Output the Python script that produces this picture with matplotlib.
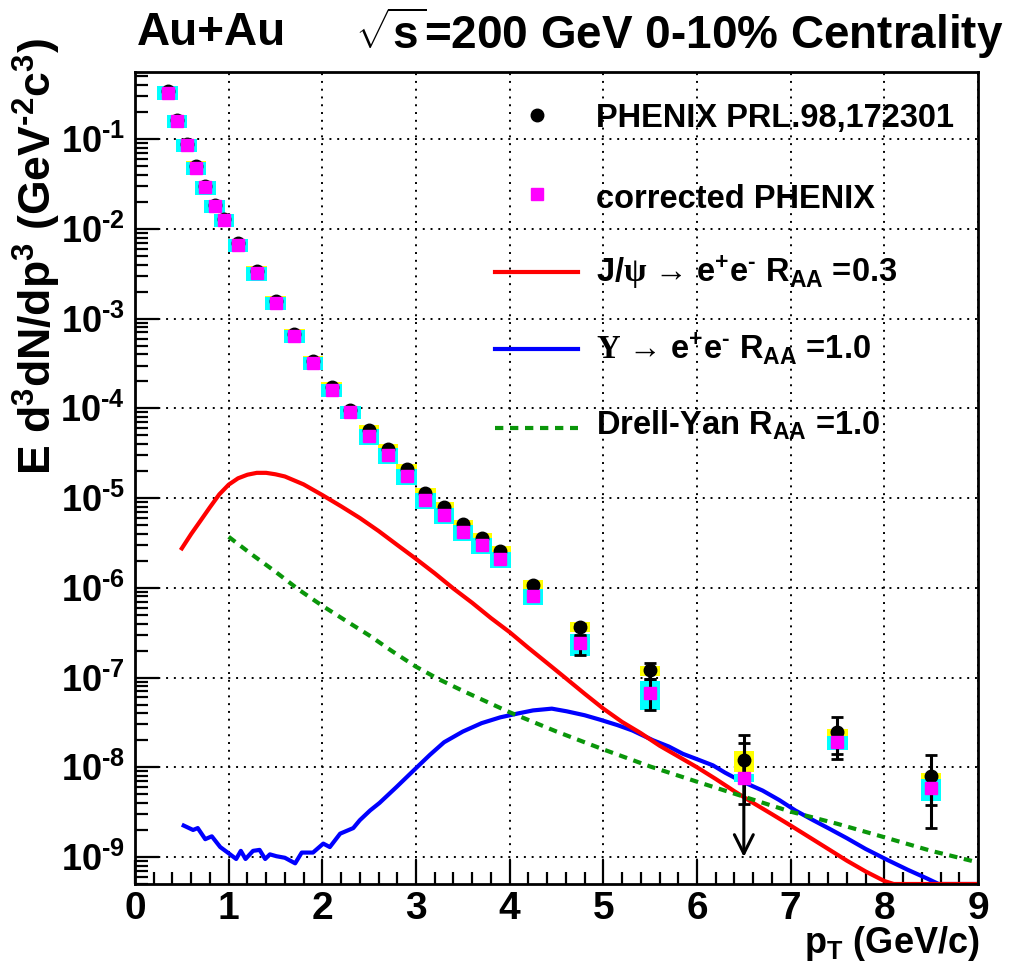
import numpy as np
import matplotlib
matplotlib.use('Agg')
from matplotlib import pyplot as plt
from matplotlib.lines import Line2D
from matplotlib.ticker import FuncFormatter, FixedLocator, LogLocator, NullFormatter, MultipleLocator

plt.rcParams['font.family'] = ['Liberation Sans', 'DejaVu Sans']
plt.rcParams['font.weight'] = 'bold'
plt.rcParams['mathtext.fontset'] = 'custom'
plt.rcParams['mathtext.rm'] = 'Liberation Sans:bold'
plt.rcParams['mathtext.it'] = 'Liberation Sans:bold'
plt.rcParams['mathtext.bf'] = 'Liberation Sans:bold'
plt.rcParams['mathtext.sf'] = 'Liberation Serif'

# PHENIX points (pT in GeV/c)
pt = [0.35, 0.45, 0.55, 0.65, 0.75, 0.85, 0.95, 1.1, 1.3, 1.5, 1.7, 1.9, 2.1, 2.3,
      2.5, 2.7, 2.9, 3.1, 3.3, 3.5, 3.7, 3.9, 4.25, 4.75, 5.5, 6.5, 7.5, 8.5]
phenix = [0.34, 0.165, 0.089, 0.050, 0.030, 0.0185, 0.013, 0.0069, 0.0034, 0.00158,
          6.8e-4, 3.4e-4, 1.75e-4, 9.5e-5, 5.8e-5, 3.5e-5, 2.1e-5, 1.15e-5, 8.0e-6,
          5.1e-6, 3.6e-6, 2.6e-6, 1.07e-6, 3.7e-7, 1.2e-7, 1.2e-8, 2.45e-8, 7.9e-9]
corrected = [0.33, 0.16, 0.086, 0.048, 0.029, 0.018, 0.0125, 0.0066, 0.0032, 0.00149,
             6.4e-4, 3.2e-4, 1.6e-4, 9.1e-5, 4.9e-5, 3.0e-5, 1.75e-5, 9.5e-6, 6.5e-6,
             4.2e-6, 3.0e-6, 2.1e-6, 8.0e-7, 2.4e-7, 6.8e-8, 7.6e-9, 1.9e-8, 5.8e-9]

# relative systematic errors (boxes)
phenix_sys = [0.13] * 25 + [0.27, 0.10, 0.10]
corrected_sys = [0.17] * 14 + [0.20] * 8 + [0.20, 0.28, 0.36, 0.10, 0.17, 0.27]

# statistical errors, only visible for the last points
hi_pt = [4.25, 4.75, 5.5, 6.5, 7.5, 8.5]
phenix_hi = [1.07e-6, 3.7e-7, 1.2e-7, 1.2e-8, 2.45e-8, 7.9e-9]
phenix_err_up = [0.05e-6, 0.3e-7, 0.24e-7, 1.1e-8, 1.2e-8, 5.8e-9]
phenix_err_dn = [0.05e-6, 0.8e-7, 0.24e-7, 0.0, 1.2e-8, 5.8e-9]
corrected_hi = [8.0e-7, 2.4e-7, 6.8e-8, 7.6e-9, 1.9e-8, 5.8e-9]
corrected_err_up = [0.5e-7, 0.6e-7, 2.9e-8, 1.1e-8, 0.5e-8, 2.0e-9]
corrected_err_dn = [0.5e-7, 0.6e-7, 2.4e-8, 3.7e-9, 0.5e-8, 2.0e-9]
limit_pt = 6.5
limit_to = 1.0e-9

# J/psi -> ee, RAA = 0.3
jpsi_pt = [0.5, 0.6, 0.7, 0.8, 0.9, 1.0, 1.1, 1.2, 1.3, 1.4, 1.5, 1.6, 1.8, 2.0, 2.2,
           2.4, 2.6, 2.8, 3.0, 3.2, 3.4, 3.6, 3.8, 4.0, 4.2, 4.4, 4.6, 4.8, 5.0, 5.2,
           5.4, 5.6, 5.8, 6.0, 6.2, 6.4, 6.6, 6.8, 7.0, 7.2, 7.4, 7.6, 7.8, 8.0, 8.1, 9.0]
jpsi = [2.75e-6, 3.98e-6, 5.6e-6, 7.9e-6, 1.10e-5, 1.41e-5, 1.66e-5, 1.82e-5, 1.91e-5,
        1.91e-5, 1.84e-5, 1.74e-5, 1.42e-5, 1.08e-5, 8.1e-6, 6.0e-6, 4.3e-6, 3.0e-6,
        2.1e-6, 1.45e-6, 9.8e-7, 6.8e-7, 4.6e-7, 3.2e-7, 2.14e-7, 1.45e-7, 9.8e-8,
        6.6e-8, 4.5e-8, 3.2e-8, 2.4e-8, 1.74e-8, 1.32e-8, 1.0e-8, 7.4e-9, 5.4e-9, 4.0e-9,
        3.0e-9, 2.24e-9, 1.66e-9, 1.23e-9, 9.1e-10, 6.9e-10, 5.4e-10, 5.0e-10, 5.0e-10]

# Upsilon -> ee, RAA = 1
ups_pt = [0.52, 0.62, 0.67, 0.75, 0.82, 0.91, 1.0, 1.08, 1.13, 1.18, 1.26, 1.33, 1.39,
          1.44, 1.51, 1.6, 1.71, 1.78, 1.9, 2.01, 2.08, 2.19, 2.33, 2.4, 2.51, 2.61,
          2.79, 3.01, 3.15, 3.3, 3.5, 3.7, 3.9, 4.1, 4.25, 4.45, 4.61, 4.8, 4.96, 5.15,
          5.31, 5.53, 5.7, 5.85, 6.0, 6.17, 6.3, 6.46, 6.7, 6.88, 7.05, 7.24, 7.4, 7.6,
          7.8, 8.03, 8.25, 8.45, 8.58, 9.0]
ups = [2.24e-9, 2.0e-9, 2.1e-9, 1.58e-9, 1.7e-9, 1.29e-9, 1.10e-9, 9.5e-10, 1.17e-9,
       9.5e-10, 1.17e-9, 1.2e-9, 9.5e-10, 1.07e-9, 1.02e-9, 9.8e-10, 8.5e-10, 1.12e-9,
       1.12e-9, 1.41e-9, 1.29e-9, 1.82e-9, 2.1e-9, 2.57e-9, 3.3e-9, 4.0e-9, 6.0e-9,
       1.0e-8, 1.38e-8, 1.9e-8, 2.5e-8, 3.1e-8, 3.6e-8, 4.0e-8, 4.3e-8, 4.5e-8, 4.2e-8,
       3.8e-8, 3.4e-8, 2.95e-8, 2.57e-8, 2.0e-8, 1.7e-8, 1.41e-8, 1.23e-8, 1.05e-8,
       8.7e-9, 7.1e-9, 5.5e-9, 4.3e-9, 3.3e-9, 2.57e-9, 2.1e-9, 1.62e-9, 1.23e-9,
       9.3e-10, 7.2e-10, 5.8e-10, 5.0e-10, 5.0e-10]

# Drell-Yan, RAA = 1
dy_pt = [1.0, 1.25, 1.5, 1.75, 2.0, 2.25, 2.5, 2.75, 3.0, 3.25, 3.5, 3.75, 4.0, 4.25,
         4.5, 5.0, 5.5, 6.0, 6.5, 7.0, 7.5, 8.0, 8.5, 9.0]
dy = [3.7e-6, 2.34e-6, 1.51e-6, 9.5e-7, 6.3e-7, 4.3e-7, 2.95e-7, 1.95e-7, 1.32e-7,
      9.5e-8, 7.1e-8, 5.4e-8, 4.1e-8, 3.2e-8, 2.5e-8, 1.58e-8, 1.02e-8, 6.9e-9, 4.7e-9,
      3.2e-9, 2.34e-9, 1.66e-9, 1.17e-9, 8.7e-10]

y_decades = [1e-9, 1e-8, 1e-7, 1e-6, 1e-5, 1e-4, 1e-3, 1e-2, 1e-1]

legend_labels = [
    'PHENIX PRL.98,172301',
    'corrected PHENIX',
    r'J/$\mathsf{\psi}$ → e$^{+}$e$^{\text{-}}$ R$_{\mathrm{AA}}$ =0.3',
    r'$\mathsf{\Upsilon}$ → e$^{+}$e$^{\text{-}}$ R$_{\mathrm{AA}}$ =1.0',
    r'Drell-Yan R$_{\mathrm{AA}}$ =1.0',
]

W, H = 1016, 974
fig = plt.figure(figsize=(W / 100, H / 100), dpi=100)
ax = fig.add_axes([135 / W, 1 - 884 / H, 843 / W, 812 / H])
ax.set_yscale('log')
ax.set_xlim(0, 9)
ax.set_ylim(5e-10, 0.56)

# curves
ax.plot(ups_pt, ups, color='#0000ff', lw=3, zorder=2)
ax.plot(jpsi_pt, jpsi, color='#ff0000', lw=3, zorder=2)
ax.plot(dy_pt, dy, color='#0a960a', lw=3, dashes=(2.0, 1.6), zorder=2)

# systematic boxes
ph = np.array(phenix)
co = np.array(corrected)
psys = np.array(phenix_sys)
csys = np.array(corrected_sys)
ax.bar(pt, ph * 2 * psys, bottom=ph * (1 - psys), width=0.22, color='#ffff00', zorder=3)
ax.bar(pt, co * 2 * csys, bottom=co * (1 - csys), width=0.22, color='#00ffff', zorder=4)

# statistical errors
ax.errorbar(hi_pt, phenix_hi, yerr=[phenix_err_dn, phenix_err_up], fmt='none',
            ecolor='black', elinewidth=2.2, capsize=4, capthick=2, zorder=5)
ax.errorbar(hi_pt, corrected_hi, yerr=[corrected_err_dn, corrected_err_up], fmt='none',
            ecolor='black', elinewidth=2.2, capsize=4, capthick=2, zorder=5)
ax.annotate('', xy=(limit_pt, limit_to), xytext=(limit_pt, phenix_hi[3]),
            arrowprops=dict(arrowstyle='->', lw=2.2, color='black', mutation_scale=34,
                            shrinkA=0, shrinkB=0), zorder=5)

ax.plot(pt, phenix, 'o', color='black', ms=9, ls='none', zorder=6)
ax.plot(pt, corrected, 's', color='#ff00ff', ms=8.4, mec='#ff00ff', ls='none', zorder=7)

# axes style
ax.grid(True, which='major', color='black', ls=(0, (1, 3)), lw=1.4)
ax.xaxis.set_major_locator(MultipleLocator(1))
ax.xaxis.set_minor_locator(MultipleLocator(0.2))
ax.yaxis.set_major_locator(FixedLocator(y_decades))
ax.yaxis.set_minor_locator(LogLocator(base=10, subs=np.arange(2, 10), numticks=20))
ax.yaxis.set_minor_formatter(NullFormatter())
ax.yaxis.set_major_formatter(
    FuncFormatter(lambda v, p: r'10$^{\text{-}%d}$' % abs(round(np.log10(v)))))
ax.tick_params(which='both', direction='in', width=1.6, top=False, right=False)
ax.tick_params(axis='x', labelsize=28, pad=5)
ax.tick_params(axis='y', labelsize=26, pad=7)
ax.tick_params(which='major', length=17)
ax.tick_params(which='minor', length=9)
for s in ax.spines.values():
    s.set_linewidth(2)

# titles
fig.text(137 / W, 1 - 33 / H, 'Au+Au', fontsize=33, fontweight='bold', va='center')
fig.text(355 / W, 1 - 33 / H, r'$\sqrt{\mathrm{s}}$=200 GeV 0-10% Centrality',
         fontsize=33, fontweight='bold', va='center')
fig.text(980 / W, 1 - 953 / H, r'p$_{\mathrm{T}}$ (GeV/c)', fontsize=26,
         fontweight='bold', ha='right', va='baseline')
fig.text(37 / W, 1 - 38 / H,
         r'E d$^{3}$dN/dp$^{3}$ (GeV$^{\text{-}2}$c$^{3}$)', fontsize=32,
         fontweight='bold', rotation=90, ha='center', va='top')

# legend, drawn by hand to keep the ROOT row spacing
rows = [115, 194, 272, 349, 428]
baselines = [127, 208, 282, 359, 435]
fig.add_artist(Line2D([537 / W], [1 - rows[0] / H], marker='o', color='black', ms=9,
                      transform=fig.transFigure))
fig.add_artist(Line2D([537 / W], [1 - rows[1] / H], marker='s', color='#ff00ff', ms=8.4,
                      transform=fig.transFigure))
for r, c, d in [(rows[2], '#ff0000', None), (rows[3], '#0000ff', None),
                (rows[4], '#0a960a', (2.0, 1.6))]:
    ln = Line2D([495 / W, 578 / W], [1 - r / H, 1 - r / H], color=c, lw=3,
                transform=fig.transFigure)
    if d:
        ln.set_dashes(d)
    fig.add_artist(ln)
for b, lab in zip(baselines, legend_labels):
    fig.text(596 / W, 1 - b / H, lab, fontsize=23.5, fontweight='bold', va='baseline')

fig.savefig('out.png', dpi=100)
